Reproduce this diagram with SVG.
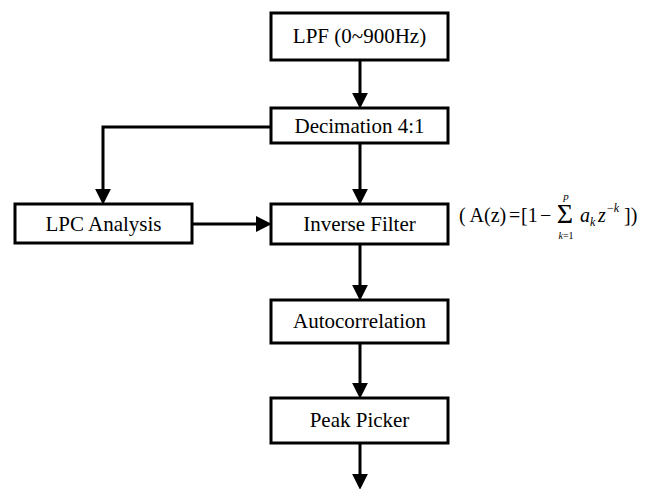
<svg xmlns="http://www.w3.org/2000/svg" width="654" height="489" viewBox="0 0 654 489">
<style>
.box{fill:#fff;stroke:#000;stroke-width:3}
.lbl{font-family:"Liberation Serif","Times New Roman",Times,"DejaVu Serif",serif;font-size:21px;text-anchor:middle;fill:#000}
.conn{fill:none;stroke:#000;stroke-width:3}
.f{font-family:"Liberation Serif","Times New Roman",Times,"DejaVu Serif",serif;fill:#000}
</style>
<defs>
<marker id="ah" markerUnits="userSpaceOnUse" markerWidth="16" markerHeight="16" viewBox="0 0 15 15" refX="3" refY="7.5" orient="auto">
<path d="M0,0 L15,7.5 L0,15 z" fill="#000"/>
</marker>
</defs>
<rect width="654" height="489" fill="#fff"/>
<g id="connectors">
<line class="conn" x1="360" y1="60" x2="360" y2="96" marker-end="url(#ah)"/>
<line class="conn" x1="360" y1="143" x2="360" y2="192" marker-end="url(#ah)"/>
<polyline class="conn" points="271,127 103,127 103,192" marker-end="url(#ah)"/>
<line class="conn" x1="192" y1="224" x2="259" y2="224" marker-end="url(#ah)"/>
<line class="conn" x1="360" y1="244" x2="360" y2="288" marker-end="url(#ah)"/>
<line class="conn" x1="360" y1="343" x2="360" y2="386" marker-end="url(#ah)"/>
<line class="conn" x1="360" y1="443" x2="360" y2="477" marker-end="url(#ah)"/>
</g>
<g id="lpf">
<rect class="box" x="271" y="13" width="177" height="47"/>
<text class="lbl" x="359.5" y="43">LPF (0~900Hz)</text>
</g>
<g id="decimation">
<rect class="box" x="271" y="108" width="177" height="35"/>
<text class="lbl" x="359.5" y="133">Decimation 4:1</text>
</g>
<g id="lpc">
<rect class="box" x="15" y="204" width="177" height="39"/>
<text class="lbl" x="103.5" y="231">LPC Analysis</text>
</g>
<g id="inverse">
<rect class="box" x="271" y="204" width="177" height="40"/>
<text class="lbl" x="359.5" y="231">Inverse Filter</text>
</g>
<g id="autocorrelation">
<rect class="box" x="271" y="300" width="177" height="43"/>
<text class="lbl" x="359.5" y="328">Autocorrelation</text>
</g>
<g id="peak">
<rect class="box" x="271" y="398" width="177" height="45"/>
<text class="lbl" x="359.5" y="427">Peak Picker</text>
</g>
<g id="formula">
<text class="f" x="459" y="222" font-size="20">( A(z)</text>
<text class="f" x="509" y="222" font-size="20">=</text>
<text class="f" x="521" y="222" font-size="20">[1</text>
<text class="f" x="540" y="222" font-size="20">−</text>
<text class="f" x="565" y="223" font-size="28" text-anchor="middle">Σ</text>
<text class="f" x="566" y="200" font-size="11" font-style="italic" text-anchor="middle">p</text>
<text class="f" x="566" y="239" font-size="10" text-anchor="middle"><tspan font-style="italic">k</tspan>=1</text>
<text class="f" x="580" y="222" font-size="20" font-style="italic">a</text>
<text class="f" x="590" y="226" font-size="12" font-style="italic">k</text>
<text class="f" x="598" y="222" font-size="20" font-style="italic">z</text>
<text class="f" x="607" y="212" font-size="12">−<tspan font-style="italic">k</tspan></text>
<text class="f" x="624" y="222" font-size="20">])</text>
</g>
</svg>
